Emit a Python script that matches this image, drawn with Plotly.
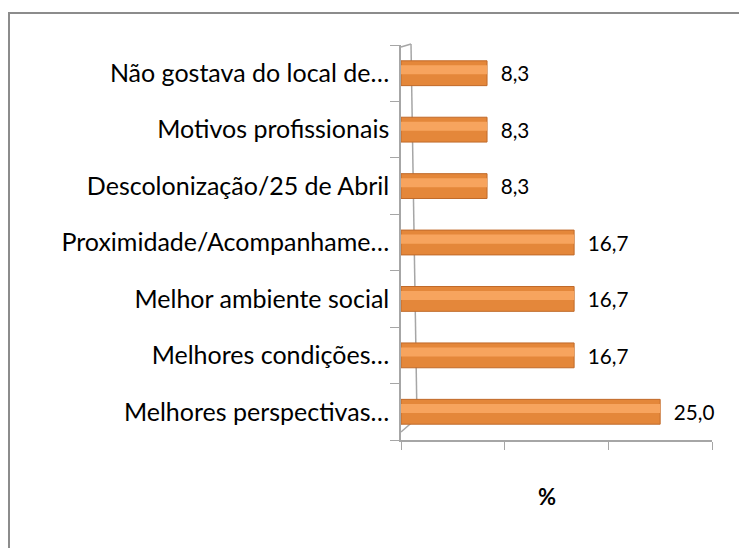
import plotly.graph_objects as go

categories = [
    "Melhores perspectivas…",
    "Melhores condições…",
    "Melhor ambiente social",
    "Proximidade/Acompanhame…",
    "Descolonização/25 de Abril",
    "Motivos profissionais",
    "Não gostava do local de…",
]
values = [25.0, 16.7, 16.7, 16.7, 8.3, 8.3, 8.3]
value_labels = ["25,0", "16,7", "16,7", "16,7", "8,3", "8,3", "8,3"]
x_title = "%"

W, H = 747, 548
OFF = 8  # page body margin offset of the rendered figure
ml, mr, mt, mb = 393, 43, 37, 116
pw, ph = W - ml - mr, H - mt - mb

def px(x):
    # screen x -> paper x
    return (x - OFF - ml) / pw

def py(y):
    # screen y -> paper y
    return (H - mb - (y - OFF)) / ph

FONT = "Lato, sans-serif"
GRAY = "#A6A6A6"

fig = go.Figure()
fig.add_trace(go.Bar(
    y=categories, x=values, orientation="h", width=0.44,
    marker=dict(color="#E4873A", line=dict(color="#C06A2A", width=1)),
    text=["  " + t for t in value_labels], textposition="outside", cliponaxis=False,
    textfont=dict(family=FONT, size=25, color="#000000"),
    hoverinfo="skip", showlegend=False,
))
fig.add_trace(go.Bar(
    y=categories, x=values, orientation="h", width=0.16, offset=-0.02,
    marker=dict(color="#F7A45E", line=dict(width=0)),
    hoverinfo="skip", showlegend=False,
))

fig.update_layout(
    width=W, height=H,
    margin=dict(l=ml, r=mr, t=mt, b=mb),
    paper_bgcolor="white", plot_bgcolor="rgba(0,0,0,0)",
    barmode="overlay",
    font=dict(family=FONT, size=25, color="#000000"),
    xaxis=dict(range=[0, 30], dtick=10, showticklabels=False, showgrid=False,
               zeroline=False, showline=True, linecolor=GRAY, linewidth=1.5,
               ticks="outside", ticklen=8, tickcolor=GRAY),
    yaxis=dict(showgrid=False, zeroline=False, showline=True, linecolor=GRAY,
               linewidth=1.5, ticks="outside", ticklen=9, tickcolor=GRAY,
               tickson="boundaries", ticklabelstandoff=5,
               tickfont=dict(family=FONT, size=25), automargin=False),
    annotations=[dict(text="<b>" + x_title + "</b>", xref="paper", yref="paper",
                      x=px(547), y=py(497), xanchor="center", yanchor="middle",
                      showarrow=False,
                      font=dict(family=FONT, size=22, color="#000000"))],
    shapes=[
        dict(type="rect", xref="paper", yref="paper",
             x0=px(9), x1=px(780), y0=py(580), y1=py(13),
             line=dict(color="#8C8C8C", width=2), fillcolor="rgba(0,0,0,0)", layer="below"),
        dict(type="line", xref="paper", yref="paper",
             x0=px(411), x1=px(417), y0=py(44), y1=py(418),
             line=dict(color=GRAY, width=1.5), layer="below"),
        dict(type="line", xref="paper", yref="paper",
             x0=px(401), x1=px(411), y0=py(47), y1=py(44),
             line=dict(color=GRAY, width=1.5), layer="below"),
        dict(type="line", xref="paper", yref="paper",
             x0=px(401), x1=px(417), y0=py(432), y1=py(418),
             line=dict(color=GRAY, width=1.5), layer="below"),
    ],
)

fig.write_html("out.html")
